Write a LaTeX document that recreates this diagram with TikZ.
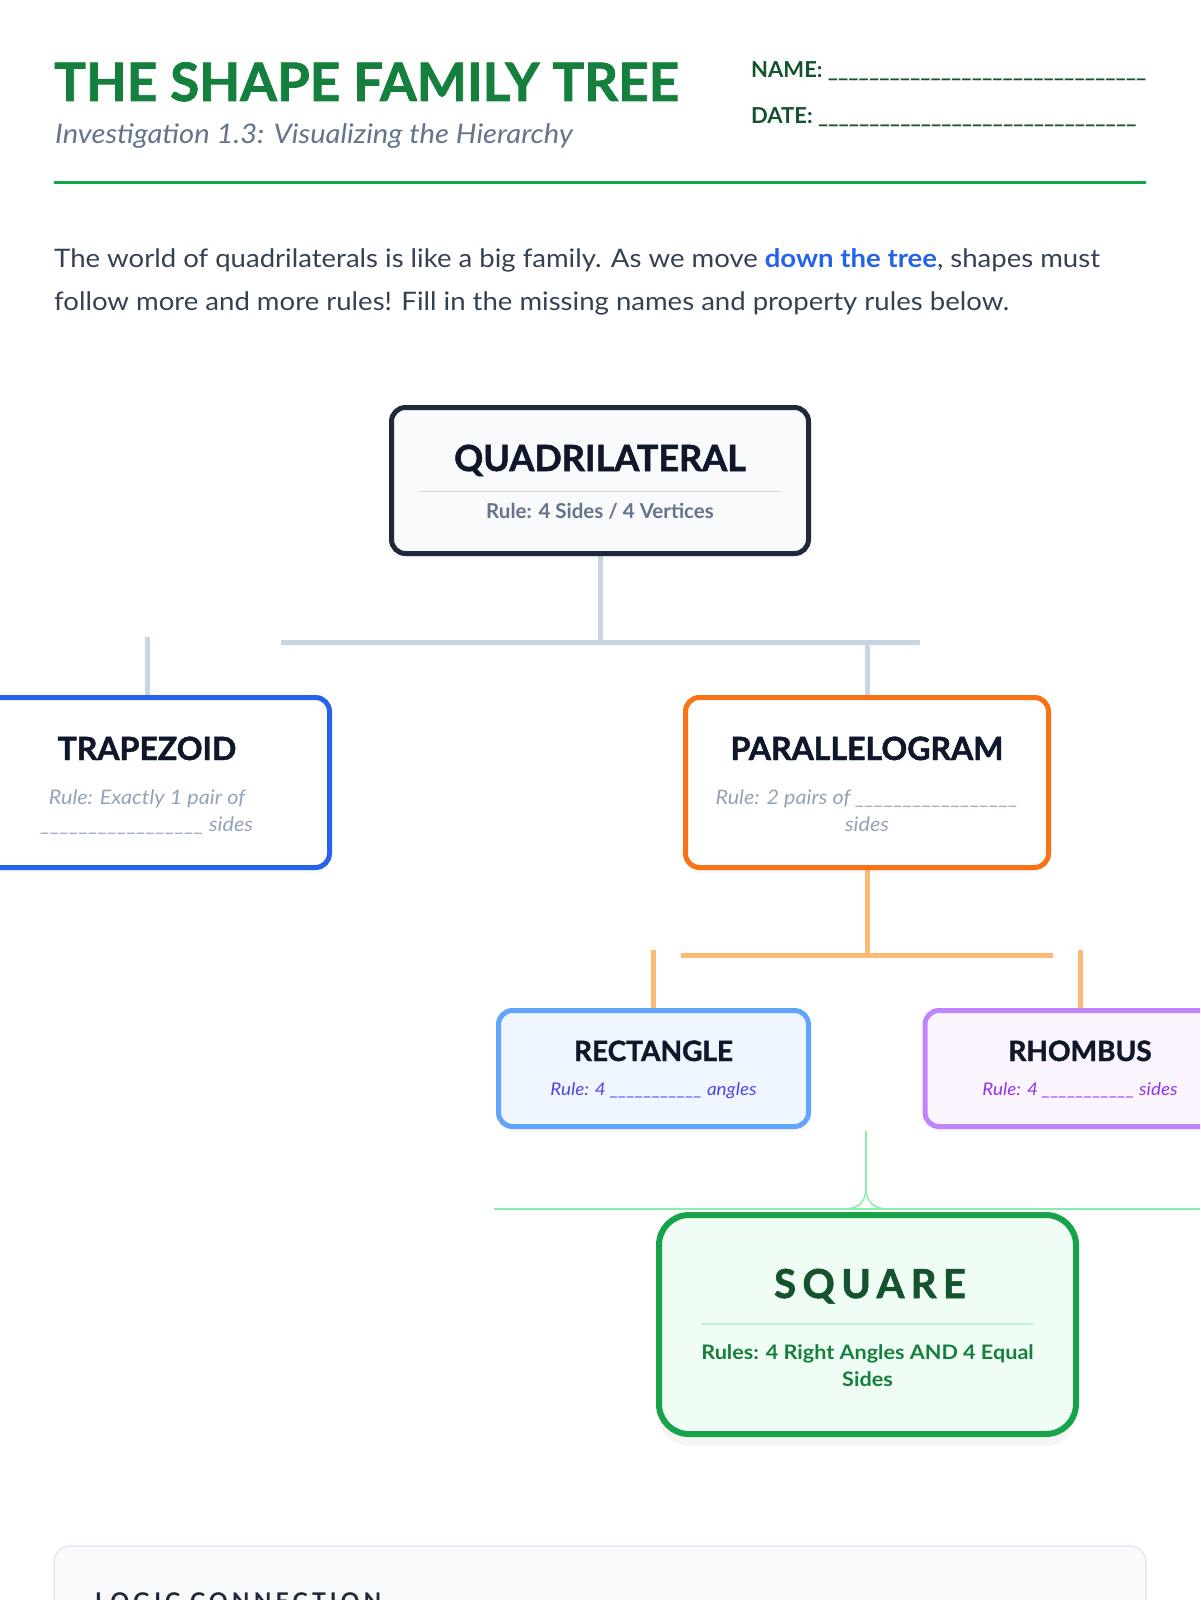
\documentclass[tikz,border=0pt]{standalone}
\usepackage{fontspec}
\setmainfont{Lato}
\newfontfamily\bodyfont[FakeStretch=1.08]{Lato}
\newfontfamily\heavyfont[BoldFeatures={FakeBold=1.5}]{Lato}
\newfontfamily\widefont[LetterSpace=16, BoldFeatures={FakeBold=1.5}]{Lato}
\newfontfamily\logicfont[LetterSpace=18]{Lato}
\usetikzlibrary{calc}
\usetikzlibrary{shadows}
\usetikzlibrary{backgrounds}

\definecolor{leafgreen}{HTML}{15803D}
\definecolor{deepgreen}{HTML}{14532D}
\definecolor{rulegreen}{HTML}{16A34A}
\definecolor{mintline}{HTML}{86EFAC}
\definecolor{mintfill}{HTML}{F0FDF4}
\definecolor{mintrule}{HTML}{BBF7D0}
\definecolor{slate}{HTML}{64748B}
\definecolor{slatetext}{HTML}{334155}
\definecolor{slatedark}{HTML}{1E293B}
\definecolor{ink}{HTML}{0F172A}
\definecolor{paleslate}{HTML}{F8FAFC}
\definecolor{stem}{HTML}{CBD5E1}
\definecolor{mist}{HTML}{94A3B8}
\definecolor{royal}{HTML}{2563EB}
\definecolor{sky}{HTML}{60A5FA}
\definecolor{skyfill}{HTML}{EFF6FF}
\definecolor{indigoink}{HTML}{4F46E5}
\definecolor{tangerine}{HTML}{F97316}
\definecolor{peach}{HTML}{FDBA74}
\definecolor{lilac}{HTML}{C084FC}
\definecolor{lilacfill}{HTML}{FAF5FF}
\definecolor{violetink}{HTML}{9333EA}
\definecolor{panelframe}{HTML}{E2E8F0}

\tikzset{
  familybox/.style={draw, rounded corners=14pt, line width=5pt, fill=white, inner sep=0pt},
  lift/.style={drop shadow={shadow xshift=0pt, shadow yshift=-5pt, opacity=.07}},
  biglift/.style={drop shadow={shadow xshift=0pt, shadow yshift=-12pt, opacity=.08}},
  boxtitle/.style={inner sep=0pt, anchor=base, text=ink, font=\heavyfont\bfseries\fontsize{32}{36}\selectfont},
  boxrule/.style={inner sep=0pt, anchor=base, align=center},
  stemline/.style={stem, line width=5pt},
  peachline/.style={peach, line width=5pt},
  mintstem/.style={mintline, line width=1.5pt},
  headtext/.style={anchor=base west, inner sep=0pt}
}

\begin{document}
\begin{tikzpicture}[x=1pt, y=-1pt]
\useasboundingbox (0,0) rectangle (1200,1600);
\clip (0,0) rectangle (1200,1600);

\node[headtext, text=leafgreen, font=\heavyfont\bfseries\fontsize{53}{60}\selectfont] (title) at (54,101) {THE SHAPE FAMILY TREE};
\node[headtext, text=slate, font=\bodyfont\itshape\fontsize{27}{30}\selectfont] (subtitle) at (55,143) {Investigation 1.3: Visualizing the Hierarchy};
\node[headtext, text=deepgreen, font=\bfseries\fontsize{22}{26}\selectfont] (name) at (751,78) {NAME: \_\_\_\_\_\_\_\_\_\_\_\_\_\_\_\_\_\_\_\_\_\_\_\_\_\_\_\_\_\_\_};
\node[headtext, text=deepgreen, font=\bfseries\fontsize{22}{26}\selectfont] (date) at (751,124) {DATE: \_\_\_\_\_\_\_\_\_\_\_\_\_\_\_\_\_\_\_\_\_\_\_\_\_\_\_\_\_\_\_};
\draw[rulegreen, line width=3pt] (54,182) -- (1146,182);

\node[headtext, align=left, text=slatetext, font=\bodyfont\fontsize{25.5}{43}\selectfont] (intro) at (54,310) {The world of quadrilaterals is like a big family. As we move \textbf{\color{royal}down the tree}, shapes must\\follow more and more rules! Fill in the missing names and property rules below.};

\node[familybox, lift, draw=slatedark, fill=paleslate, minimum width=417pt, minimum height=146pt] (quad) at (600,480.5) {};
\node[boxtitle, font=\heavyfont\bfseries\fontsize{36}{40}\selectfont] (quadname) at (600,471) {QUADRILATERAL};
\draw[stem, line width=1pt] (420,491) -- (780,491);
\node[boxrule, text=slate, font=\bfseries\fontsize{20.5}{24}\selectfont] (quadrule) at (600,518) {Rule: 4 Sides / 4 Vertices};

\node[familybox, lift, draw=royal, minimum width=365pt, minimum height=170pt] (trap) at (147,782.5) {};
\node[boxtitle] (trapname) at (147,760) {TRAPEZOID};
\node[boxrule, text=mist, font=\bodyfont\itshape\fontsize{20}{26.5}\selectfont] (traprule) at (147,831) {Rule: Exactly 1 pair of\\\_\_\_\_\_\_\_\_\_\_\_\_\_\_\_\_\_ sides};

\node[familybox, lift, draw=tangerine, minimum width=363pt, minimum height=170pt] (para) at (867,782.5) {};
\node[boxtitle] (paraname) at (867,760) {PARALLELOGRAM};
\node[boxrule, text=mist, font=\bodyfont\itshape\fontsize{20}{26.5}\selectfont] (pararule) at (867,831) {Rule: 2 pairs of \_\_\_\_\_\_\_\_\_\_\_\_\_\_\_\_\_\\sides};

\node[familybox, lift, draw=sky, fill=skyfill, minimum width=310pt, minimum height=116pt] (rect) at (653.5,1068.5) {};
\node[boxtitle, font=\heavyfont\bfseries\fontsize{28}{32}\selectfont] (rectname) at (653.5,1061) {RECTANGLE};
\node[boxrule, text=indigoink, font=\bodyfont\itshape\fontsize{17.5}{20}\selectfont] (rectrule) at (653.5,1095) {Rule: 4 \_\_\_\_\_\_\_\_\_\_\_ angles};

\node[familybox, lift, draw=lilac, fill=lilacfill, minimum width=310pt, minimum height=116pt] (rhomb) at (1080,1068.5) {};
\node[boxtitle, font=\heavyfont\bfseries\fontsize{28}{32}\selectfont] (rhombname) at (1080,1061) {RHOMBUS};
\node[boxrule, text=violetink, font=\bodyfont\itshape\fontsize{17.5}{20}\selectfont] (rhombrule) at (1080,1095) {Rule: 4 \_\_\_\_\_\_\_\_\_\_\_ sides};

\node[familybox, biglift, draw=rulegreen, fill=mintfill, line width=6pt, rounded corners=30pt, minimum width=417pt, minimum height=219pt] (square) at (867.5,1324.5) {};
\node[boxtitle, text=deepgreen, font=\widefont\bfseries\fontsize{40}{44}\selectfont] (squarename) at (870,1298) {SQUARE};
\draw[mintrule, line width=1.5pt] (701,1324) -- (1033,1324);
\node[boxrule, text=leafgreen, font=\bodyfont\bfseries\fontsize{20}{27}\selectfont] (squarerule) at (867.5,1386) {Rules: 4 Right Angles AND 4 Equal\\Sides};

\draw[panelframe, fill=paleslate, line width=1.5pt, rounded corners=16pt] (54,1546) rectangle (1146,1720);
\node[headtext, text=slatedark, font=\logicfont\bfseries\fontsize{23}{26}\selectfont] (logic) at (95,1609) {LOGIC CONNECTION};

\begin{scope}[on background layer]
\coordinate (qfork) at (600,642);
\coordinate (qbarL) at (281,642);
\coordinate (qbarR) at (920,642);
\draw[stemline] (quad.south) -- (qfork);
\draw[stemline] (qbarL) -- (qbarR);
\draw[stemline] (para.north) -- (para.north |- qfork);
\draw[stemline] (trap.north) -- ++(0,-58);

\coordinate (pfork) at (867,955);
\coordinate (pbarL) at (681,955);
\coordinate (pbarR) at (1053,955);
\draw[peachline] (para.south) -- (pfork);
\draw[peachline] (pbarL) -- (pbarR);
\draw[peachline] (rect.north) -- ++(0,-58);
\draw[peachline] (rhomb.north) -- ++(0,-58);

\coordinate (sqtop) at (866,1131);
\coordinate (sqfork) at (866,1188);
\coordinate (sqbarL) at (494,1209);
\coordinate (sqbarR) at (1200,1209);
\draw[mintstem] (sqtop) -- (sqfork);
\draw[mintstem] (sqfork) .. controls (866,1202) and (858,1209) .. (844,1209);
\draw[mintstem] (sqfork) .. controls (866,1202) and (874,1209) .. (888,1209);
\draw[mintstem] (sqbarL) -- (sqbarR);
\end{scope}
\end{tikzpicture}
\end{document}
